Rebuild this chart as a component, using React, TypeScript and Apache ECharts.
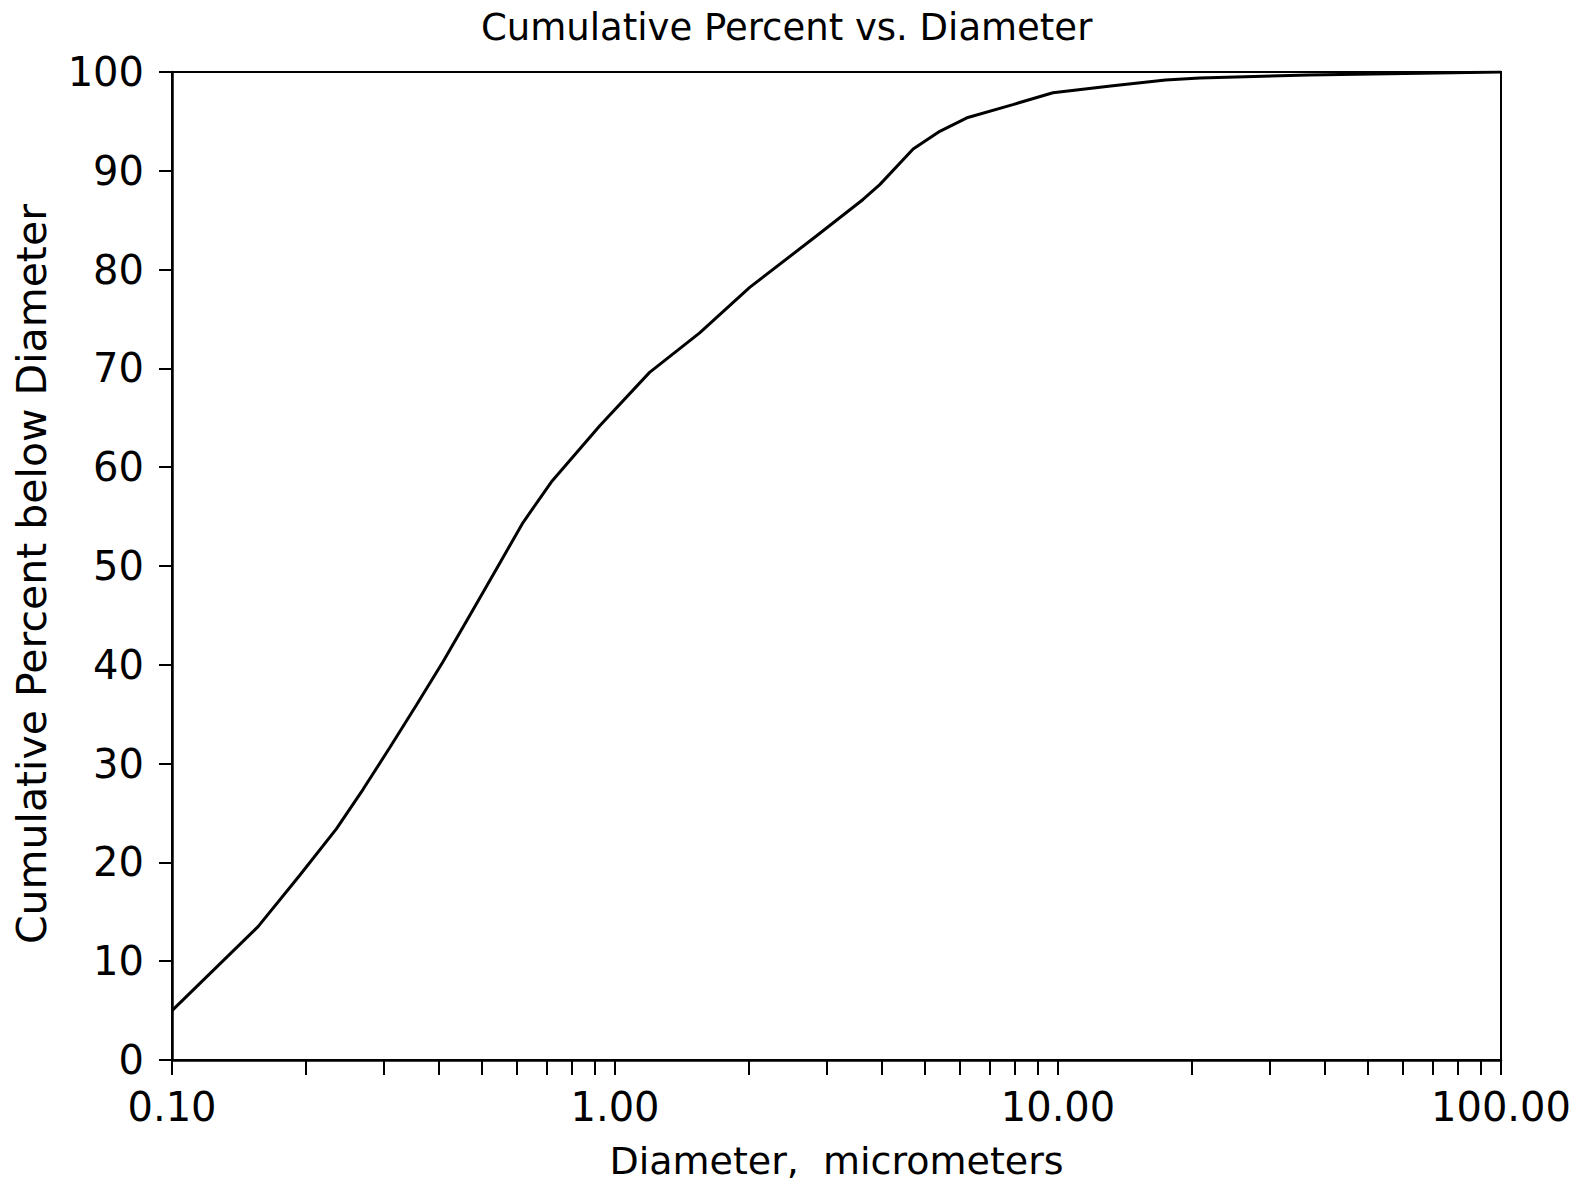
import React, { useEffect, useRef } from "react";
import * as echarts from "echarts";

const diameters = [0.1, 0.1564, 0.1943, 0.235, 0.27, 0.31, 0.356, 0.409, 0.47, 0.54, 0.62, 0.718, 0.924, 1.197, 1.553, 2.014, 2.848, 3.63, 3.96, 4.71, 5.41, 6.26, 7.91, 9.74, 13.3, 17.5, 20.9, 36.8, 100];
const cumulativePercent = [5.0, 13.5, 18.7, 23.4, 27.4, 31.6, 35.9, 40.3, 45.0, 49.7, 54.4, 58.5, 64.2, 69.6, 73.6, 78.2, 83.4, 87.1, 88.6, 92.2, 94.0, 95.4, 96.7, 97.9, 98.6, 99.2, 99.4, 99.7, 100];
const xTickValues = [0.1, 0.2, 0.3, 0.4, 0.5, 0.6, 0.7, 0.8, 0.9, 1, 2, 3, 4, 5, 6, 7, 8, 9, 10, 20, 30, 40, 50, 60, 70, 80, 90, 100];
const xLabelValues = [0.1, 1, 10, 100];

const FONT = "DejaVu Sans";

export default function App() {
  const ref = useRef<HTMLDivElement>(null);
  useEffect(() => {
    if (!ref.current) return;
    const chart = echarts.init(ref.current, null, { renderer: "svg" });
    const data = diameters.map((d, i) => [d, cumulativePercent[i]]);
    chart.setOption({
      animation: false,
      backgroundColor: "#fff",
      title: {
        text: "Cumulative Percent vs. Diameter",
        left: 481,
        top: 9,
        padding: 0,
        textStyle: { fontFamily: FONT, fontSize: 37, fontWeight: "normal", color: "#000" },
      },
      grid: {
        left: 172,
        right: 78,
        top: 72,
        bottom: 124,
        show: true,
        borderColor: "#000",
        borderWidth: 2,
        backgroundColor: "transparent",
      },
      xAxis: {
        type: "log",
        logBase: 10,
        min: 0.1,
        max: 100,
        name: "Diameter,  micrometers",
        nameLocation: "middle",
        nameGap: 82,
        nameTextStyle: { fontFamily: FONT, fontSize: 38, color: "#000" },
        axisLine: { show: true, lineStyle: { color: "#000", width: 2.5 } },
        axisTick: { show: true, customValues: xTickValues, length: 15, lineStyle: { color: "#000", width: 2 } },
        axisLabel: {
          customValues: xLabelValues,
          fontFamily: FONT,
          fontSize: 40,
          color: "#000",
          margin: 27,
          formatter: (v: number) => Number(v).toFixed(2),
        },
        splitLine: { show: false },
        minorTick: { show: false },
      },
      yAxis: {
        type: "value",
        min: 0,
        max: 100,
        interval: 10,
        name: "Cumulative Percent below Diameter",
        nameLocation: "middle",
        nameGap: 120,
        nameTextStyle: { fontFamily: FONT, fontSize: 41, color: "#000", padding: [0, 16, 0, 0] },
        axisLine: { show: true, lineStyle: { color: "#000", width: 2.5 } },
        axisTick: { show: true, length: 13, lineStyle: { color: "#000", width: 2 } },
        axisLabel: { fontFamily: FONT, fontSize: 40, color: "#000", margin: 28 },
        splitLine: { show: false },
      },
      series: [
        {
          type: "line",
          data,
          showSymbol: false,
          symbol: "none",
          smooth: false,
          lineStyle: { color: "#000", width: 3 },
        },
      ],
    });
    return () => chart.dispose();
  }, []);
  return (
    <div
      ref={ref}
      style={{ position: "absolute", left: 0, top: 0, width: 1579, height: 1185, background: "#fff" }}
    />
  );
}
